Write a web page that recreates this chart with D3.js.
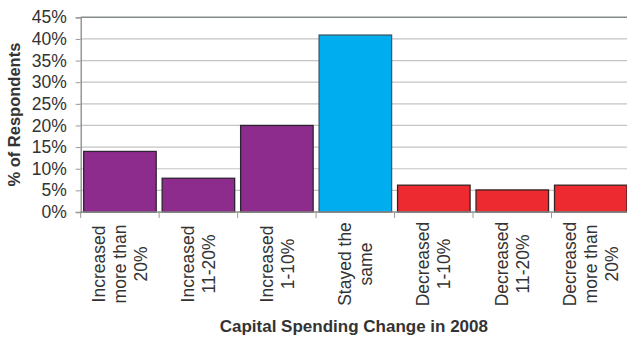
<!DOCTYPE html>
<html>
<head>
<meta charset="utf-8">
<script src="https://cdn.jsdelivr.net/npm/d3@7"></script>
<style>
  html, body { margin: 0; padding: 0; background: #fff; }
  svg { display: block; font-family: "Liberation Sans", Arial, sans-serif; }
</style>
</head>
<body>
<svg id="chart" width="627" height="337"></svg>
<script>
// Survey responses: change in capital spending during 2008
const categories = [
  ["Increased", "more than", "20%"],
  ["Increased", "11-20%"],
  ["Increased", "1-10%"],
  ["Stayed the", "same"],
  ["Decreased", "1-10%"],
  ["Decreased", "11-20%"],
  ["Decreased", "more than", "20%"]
];
const values = [14.0, 7.8, 20.0, 40.9, 6.2, 5.1, 6.2];
const groups = ["up", "up", "up", "same", "down", "down", "down"];
const yTicks = [0, 5, 10, 15, 20, 25, 30, 35, 40, 45];
const yTitle = "% of Respondents";
const xTitle = "Capital Spending Change in 2008";

const fills = { up: "#8e2c8d", same: "#00aeef", down: "#ed2a30" };
const strokes = { up: "#2e2330", same: "#3c5868", down: "#3a2223" };

const svg = d3.select("#chart");
const plotLeft = 80.7, plotRight = 630, plotTop = 17.3, plotBottom = 212;

const x = d3.scaleBand()
  .domain(d3.range(categories.length))
  .range([plotLeft, plotRight])
  .paddingInner(0.076)
  .paddingOuter(0.038);

const y = d3.scaleLinear().domain([0, 45]).range([plotBottom, plotTop]);

// horizontal gridlines
svg.append("g")
  .selectAll("line")
  .data(yTicks.filter(t => t > 0 && t < 45))
  .join("line")
  .attr("x1", plotLeft).attr("x2", plotRight)
  .attr("y1", d => y(d)).attr("y2", d => y(d))
  .attr("stroke", "#c4c4c4").attr("stroke-width", 1.2);

// top border of the plot area
svg.append("line")
  .attr("x1", plotLeft).attr("x2", plotRight)
  .attr("y1", y(45)).attr("y2", y(45))
  .attr("stroke", "#858a8c").attr("stroke-width", 1.4);

// y axis
const yAxis = svg.append("g")
  .attr("transform", `translate(${plotLeft},0)`)
  .call(d3.axisLeft(y).tickValues(yTicks).tickFormat(d => d + "%").tickSize(5).tickPadding(9));
yAxis.select(".domain").attr("stroke", "#888").attr("stroke-width", 1.3);
yAxis.selectAll(".tick line").attr("stroke", "#999");
yAxis.selectAll(".tick text")
  .attr("font-size", 17.5)
  .attr("font-family", "Liberation Sans, Arial, sans-serif")
  .attr("fill", "#333");

// bars
svg.append("g")
  .selectAll("rect")
  .data(values)
  .join("rect")
  .attr("x", (d, i) => x(i))
  .attr("width", x.bandwidth())
  .attr("y", d => y(d))
  .attr("height", d => y(0) - y(d))
  .attr("fill", (d, i) => fills[groups[i]])
  .attr("stroke", (d, i) => strokes[groups[i]])
  .attr("stroke-width", 1.3);

// x axis baseline with ticks on category boundaries
const step = x.step();
const boundaries = d3.range(categories.length).map(i => x(i) - x.paddingOuter() * step);
const xg = svg.append("g");
xg.append("line")
  .attr("x1", plotLeft).attr("x2", plotRight)
  .attr("y1", plotBottom).attr("y2", plotBottom)
  .attr("stroke", "#888").attr("stroke-width", 1.3);
xg.selectAll("line.tick")
  .data(boundaries)
  .join("line")
  .attr("class", "tick")
  .attr("x1", d => d).attr("x2", d => d)
  .attr("y1", plotBottom).attr("y2", plotBottom + 6)
  .attr("stroke", "#999");

// rotated multi-line category labels
const lineGap = 21;
const labels = svg.append("g")
  .selectAll("text")
  .data(categories)
  .join("text")
  .attr("transform", (d, i) => `translate(${x(i) + x.bandwidth() / 2},264) rotate(-90)`)
  .attr("text-anchor", "middle")
  .attr("font-size", 17.5)
  .attr("fill", "#333");
labels.selectAll("tspan")
  .data(d => d.map((t, k) => ({ t, k, n: d.length })))
  .join("tspan")
  .attr("x", 0)
  .attr("y", d => (d.k - (d.n - 1) / 2) * lineGap)
  .attr("dy", "0.35em")
  .text(d => d.t);

// axis titles
svg.append("text")
  .attr("transform", `translate(20,${(plotTop + plotBottom) / 2}) rotate(-90)`)
  .attr("text-anchor", "middle")
  .attr("font-size", 16.5)
  .attr("font-weight", "bold")
  .attr("fill", "#333")
  .text(yTitle);

svg.append("text")
  .attr("x", (plotLeft + 627) / 2)
  .attr("y", 332)
  .attr("text-anchor", "middle")
  .attr("font-size", 17)
  .attr("font-weight", "bold")
  .attr("fill", "#333")
  .text(xTitle);
</script>
</body>
</html>
